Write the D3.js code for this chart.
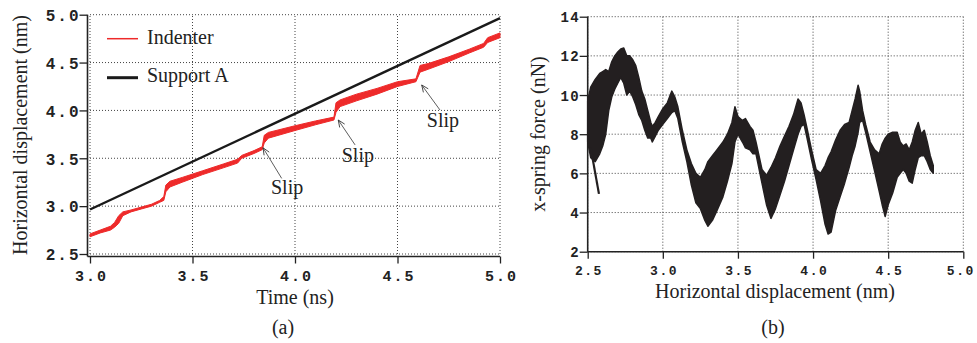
<!DOCTYPE html>
<html>
<head>
<meta charset="utf-8">
<script src="https://cdn.jsdelivr.net/npm/d3@7"></script>
<style>
  body { margin: 0; background: #fff; }
  .tick-label { font-family: "Liberation Mono", "DejaVu Sans Mono", monospace; font-weight: bold; fill: #222; }
  .serif { font-family: "Liberation Serif", "Times New Roman", serif; font-size: 20px; fill: #222; }
</style>
</head>
<body>
<div id="chart"></div>
<script>
// (a) displacement vs time
const indenterTime = [3.00, 3.05, 3.10, 3.12, 3.14, 3.16, 3.20, 3.25, 3.30, 3.34, 3.36, 3.37, 3.39, 3.45, 3.55, 3.65, 3.72, 3.74, 3.80, 3.84, 3.85, 3.87, 4.00, 4.10, 4.19, 4.20, 4.22, 4.30, 4.40, 4.50, 4.59, 4.61, 4.65, 4.75, 4.85, 4.92, 4.94, 5.00];
const indenterLow  = [2.68, 2.72, 2.75, 2.78, 2.82, 2.90, 2.94, 2.97, 3.00, 3.04, 3.06, 3.15, 3.20, 3.25, 3.33, 3.40, 3.45, 3.50, 3.55, 3.59, 3.66, 3.71, 3.79, 3.85, 3.90, 3.98, 4.04, 4.10, 4.17, 4.25, 4.30, 4.40, 4.43, 4.51, 4.60, 4.66, 4.71, 4.76];
const indenterHigh = [2.71, 2.75, 2.79, 2.83, 2.90, 2.94, 2.96, 2.99, 3.02, 3.06, 3.10, 3.22, 3.26, 3.30, 3.37, 3.44, 3.49, 3.53, 3.58, 3.62, 3.74, 3.77, 3.84, 3.89, 3.93, 4.08, 4.11, 4.17, 4.23, 4.30, 4.33, 4.47, 4.49, 4.56, 4.64, 4.70, 4.76, 4.81];
const supportTime = [3.0, 5.0];
const supportDisp = [2.965, 4.965];

const slipTipT = [3.844, 4.211, 4.618];
const slipTipD = [3.61, 3.90, 4.266];
const slipTailT = [3.935, 4.293, 4.707];
const slipTailD = [3.29, 3.64, 4.005];
const slipLabelT = [3.883, 4.228, 4.643];
const slipLabelD = [3.127, 3.464, 3.83];

const aXTicks = [3.0, 3.5, 4.0, 4.5, 5.0];
const aYTicks = [2.5, 3.0, 3.5, 4.0, 4.5, 5.0];

// (b) spring force vs horizontal displacement (envelope of the oscillating trace)
const forceX = [2.50, 2.52, 2.55, 2.58, 2.60, 2.62, 2.64, 2.66, 2.68, 2.70, 2.72, 2.74, 2.76, 2.78, 2.80, 2.82, 2.84, 2.86, 2.88, 2.90, 2.92, 2.93, 2.95, 2.97, 3.00, 3.03, 3.06, 3.08, 3.10, 3.13, 3.16, 3.19, 3.22, 3.25, 3.28, 3.30, 3.33, 3.36, 3.40, 3.43, 3.46, 3.48, 3.50, 3.53, 3.55, 3.58, 3.60, 3.62, 3.66, 3.69, 3.72, 3.75, 3.78, 3.81, 3.84, 3.87, 3.90, 3.92, 3.94, 3.96, 3.99, 4.02, 4.05, 4.08, 4.10, 4.12, 4.15, 4.18, 4.21, 4.24, 4.26, 4.28, 4.30, 4.31, 4.33, 4.35, 4.38, 4.41, 4.44, 4.46, 4.48, 4.50, 4.53, 4.56, 4.58, 4.60, 4.62, 4.64, 4.66, 4.68, 4.70, 4.72, 4.74, 4.76, 4.78, 4.80];
const forceLow  = [7.6, 6.8, 6.6, 7.0, 7.4, 8.0, 9.2, 9.9, 10.3, 10.6, 10.9, 10.6, 10.0, 10.2, 9.9, 9.5, 9.0, 8.7, 8.2, 7.8, 7.8, 7.6, 7.9, 8.2, 8.5, 8.8, 9.1, 9.2, 8.8, 7.6, 6.6, 5.4, 4.5, 4.2, 3.6, 3.3, 3.6, 4.1, 4.8, 5.6, 6.5, 7.6, 8.0, 7.6, 7.3, 7.2, 7.0, 7.0, 5.5, 4.4, 3.7, 4.2, 4.9, 5.6, 6.4, 7.2, 8.0, 8.4, 8.5, 7.8, 6.7, 5.7, 4.6, 3.4, 2.9, 3.0, 4.1, 4.8, 5.5, 6.3, 6.9, 7.4, 8.1, 8.6, 8.7, 8.1, 7.1, 6.1, 5.1, 4.4, 3.8, 4.4, 5.0, 5.8, 6.0, 6.2, 6.0, 5.6, 5.5, 6.2, 6.8, 6.9, 6.9, 6.6, 6.2, 6.0];
const forceHigh = [9.7, 10.4, 10.8, 11.1, 11.2, 11.3, 11.2, 11.7, 12.0, 12.2, 12.35, 12.4, 12.0, 12.0, 11.8, 11.5, 10.9, 10.2, 9.8, 9.2, 8.6, 8.4, 8.6, 8.9, 9.3, 9.6, 10.2, 9.9, 9.4, 8.2, 7.2, 6.5, 6.0, 5.8, 6.2, 6.6, 6.9, 7.2, 7.6, 8.0, 8.6, 9.4, 8.9, 8.7, 8.8, 8.4, 8.2, 7.6, 6.2, 5.9, 6.3, 6.8, 7.4, 7.9, 8.4, 9.0, 9.8, 9.6, 9.0, 8.3, 7.2, 6.2, 6.0, 6.4, 6.8, 7.1, 7.7, 8.2, 8.5, 8.6, 9.2, 9.8, 10.5, 10.2, 9.2, 8.5, 7.6, 7.2, 7.0, 7.5, 7.8, 8.0, 8.1, 8.1, 7.6, 7.4, 7.5, 7.2, 7.6, 8.2, 8.6, 8.0, 8.2, 7.6, 6.9, 6.4];
const spikeX = [2.52, 2.575];
const spikeF = [7.3, 4.95];

const bXTicks = [2.5, 3.0, 3.5, 4.0, 4.5, 5.0];
const bYTicks = [2, 4, 6, 8, 10, 12, 14];

const W = 977, H = 343;
const svg = d3.select("#chart").append("svg").attr("width", W).attr("height", H);

svg.append("defs").append("marker")
    .attr("id", "arrow")
    .attr("viewBox", "-8 -4 10 8")
    .attr("refX", 0).attr("refY", 0)
    .attr("markerWidth", 10).attr("markerHeight", 8)
    .attr("markerUnits", "userSpaceOnUse")
    .attr("orient", "auto")
    .append("path")
    .attr("d", "M-7,-3L0,0L-7,3")
    .attr("fill", "none")
    .attr("stroke", "#333")
    .attr("stroke-width", 0.8);

const gridColor = "#444";

function drawFrame(x, y, xTicks, yTicks, offset, fmtX, fmtY, fontSize, spacing) {
    const [x0, x1] = x.range();
    const [y0, y1] = y.range();
    const g = svg.append("g");
    // dotted grid
    g.selectAll("line.gx").data(xTicks).enter().append("line")
        .attr("x1", d => x(d)).attr("x2", d => x(d))
        .attr("y1", y0).attr("y2", y1)
        .attr("stroke", gridColor).attr("stroke-width", 1)
        .attr("stroke-dasharray", "1,2");
    g.selectAll("line.gy").data(yTicks).enter().append("line")
        .attr("y1", d => y(d)).attr("y2", d => y(d))
        .attr("x1", x0).attr("x2", x1)
        .attr("stroke", gridColor).attr("stroke-width", 1)
        .attr("stroke-dasharray", "1,2");

    const ax = x0 - offset, by = y0 + offset;
    // y axis
    const yAxis = d3.axisLeft(y).tickValues(yTicks).tickSize(8).tickFormat(fmtY);
    const gy = g.append("g").attr("transform", `translate(${ax},0)`).call(yAxis);
    gy.select(".domain").remove();
    gy.append("line").attr("x1", 0).attr("x2", 0).attr("y1", by).attr("y2", y1)
        .attr("stroke", "#222").attr("stroke-width", 1.6);
    gy.selectAll(".tick line").attr("stroke", "#222").attr("stroke-width", 1.3);
    gy.selectAll(".tick text").attr("class", "tick-label").attr("x", -9).attr("dy", "0.36em")
        .attr("dx", spacing + "px")
        .style("font-size", (fontSize + 1) + "px").style("letter-spacing", spacing + "px");
    // x axis
    const xAxis = d3.axisBottom(x).tickValues(xTicks).tickSize(7).tickFormat(fmtX);
    const gx = g.append("g").attr("transform", `translate(0,${by})`).call(xAxis);
    gx.select(".domain").remove();
    gx.append("line").attr("x1", ax).attr("x2", x1).attr("y1", 0).attr("y2", 0)
        .attr("stroke", "#222").attr("stroke-width", 1.6);
    gx.selectAll(".tick line").attr("stroke", "#222").attr("stroke-width", 1.3);
    gx.selectAll(".tick text").attr("class", "tick-label").attr("y", 14).attr("dy", "0.71em")
        .attr("dx", (spacing / 2) + "px")
        .style("font-size", fontSize + "px").style("letter-spacing", spacing + "px");
    // keep the last label inside the page
    gx.selectAll(".tick text").filter((d, i, n) => i === n.length - 1 && x(d) > W - 20)
        .attr("dx", "-3px");
    gy.attr("font-family", null).attr("font-size", null);
    gx.attr("font-family", null).attr("font-size", null);
    return g;
}

// ---------- panel (a)
const xa = d3.scaleLinear().domain([3, 5]).range([90, 500]);
const ya = d3.scaleLinear().domain([2.5, 5]).range([254, 14.7]);
drawFrame(xa, ya, aXTicks, aYTicks, 2.5, d3.format(".1f"), d3.format(".1f"), 15, 2);

const indenter = indenterTime.map((t, i) => ({ t, lo: indenterLow[i], hi: indenterHigh[i] }));
svg.append("path")
    .datum(indenter)
    .attr("fill", "#ee2a2a")
    .attr("stroke", "#ee2a2a")
    .attr("stroke-width", 1)
    .attr("d", d3.area().x(d => xa(d.t)).y0(d => ya(d.lo)).y1(d => ya(d.hi)));

svg.append("path")
    .datum(supportTime.map((t, i) => [t, supportDisp[i]]))
    .attr("fill", "none")
    .attr("stroke", "#1a1a1a")
    .attr("stroke-width", 2.4)
    .attr("d", d3.line().x(d => xa(d[0])).y(d => ya(d[1])));

// slip arrows
slipTipT.forEach((t, i) => {
    svg.append("line")
        .attr("x1", xa(slipTailT[i])).attr("y1", ya(slipTailD[i]))
        .attr("x2", xa(t)).attr("y2", ya(slipTipD[i]))
        .attr("stroke", "#333").attr("stroke-width", 0.8)
        .attr("marker-end", "url(#arrow)");
    svg.append("text").attr("class", "serif")
        .attr("x", xa(slipLabelT[i])).attr("y", ya(slipLabelD[i]))
        .text("Slip");
});

// legend
const legend = svg.append("g");
legend.append("line").attr("x1", 107).attr("x2", 138).attr("y1", 38.7).attr("y2", 38.7)
    .attr("stroke", "#ee2a2a").attr("stroke-width", 1.5);
legend.append("text").attr("class", "serif").attr("x", 147).attr("y", 44).text("Indenter");
legend.append("line").attr("x1", 107).attr("x2", 138).attr("y1", 77.7).attr("y2", 77.7)
    .attr("stroke", "#1a1a1a").attr("stroke-width", 3);
legend.append("text").attr("class", "serif").attr("x", 147).attr("y", 82).text("Support A");

svg.append("text").attr("class", "serif")
    .attr("transform", "translate(27,135) rotate(-90)")
    .attr("text-anchor", "middle")
    .text("Horizontal displacement (nm)");
svg.append("text").attr("class", "serif")
    .attr("x", 295).attr("y", 304).attr("text-anchor", "middle")
    .text("Time (ns)");
svg.append("text").attr("class", "serif")
    .attr("x", 283).attr("y", 334).attr("text-anchor", "middle")
    .text("(a)");

// ---------- panel (b)
const xb = d3.scaleLinear().domain([2.5, 5]).range([587.7, 963.3]);
const yb = d3.scaleLinear().domain([2, 14]).range([251.7, 16.7]);
drawFrame(xb, yb, bXTicks, bYTicks, 0, d3.format(".1f"), d3.format("d"), 13, 1.5);

const force = forceX.map((v, i) => ({ v, lo: forceLow[i], hi: forceHigh[i] }));
svg.append("path")
    .datum(force)
    .attr("fill", "#231f20")
    .attr("stroke", "#231f20")
    .attr("stroke-width", 1.5)
    .attr("stroke-linejoin", "round")
    .attr("d", d3.area().x(d => xb(d.v)).y0(d => yb(d.lo)).y1(d => yb(d.hi)));

svg.append("path")
    .datum(spikeX.map((v, i) => [v, spikeF[i]]))
    .attr("fill", "none")
    .attr("stroke", "#231f20")
    .attr("stroke-width", 2.2)
    .attr("d", d3.line().x(d => xb(d[0])).y(d => yb(d[1])));

svg.append("text").attr("class", "serif")
    .attr("transform", "translate(545,134) rotate(-90)")
    .attr("text-anchor", "middle")
    .text("x-spring force (nN)");
svg.append("text").attr("class", "serif")
    .attr("x", 775).attr("y", 298).attr("text-anchor", "middle")
    .text("Horizontal displacement (nm)");
svg.append("text").attr("class", "serif")
    .attr("x", 773).attr("y", 334).attr("text-anchor", "middle")
    .text("(b)");
</script>
</body>
</html>
